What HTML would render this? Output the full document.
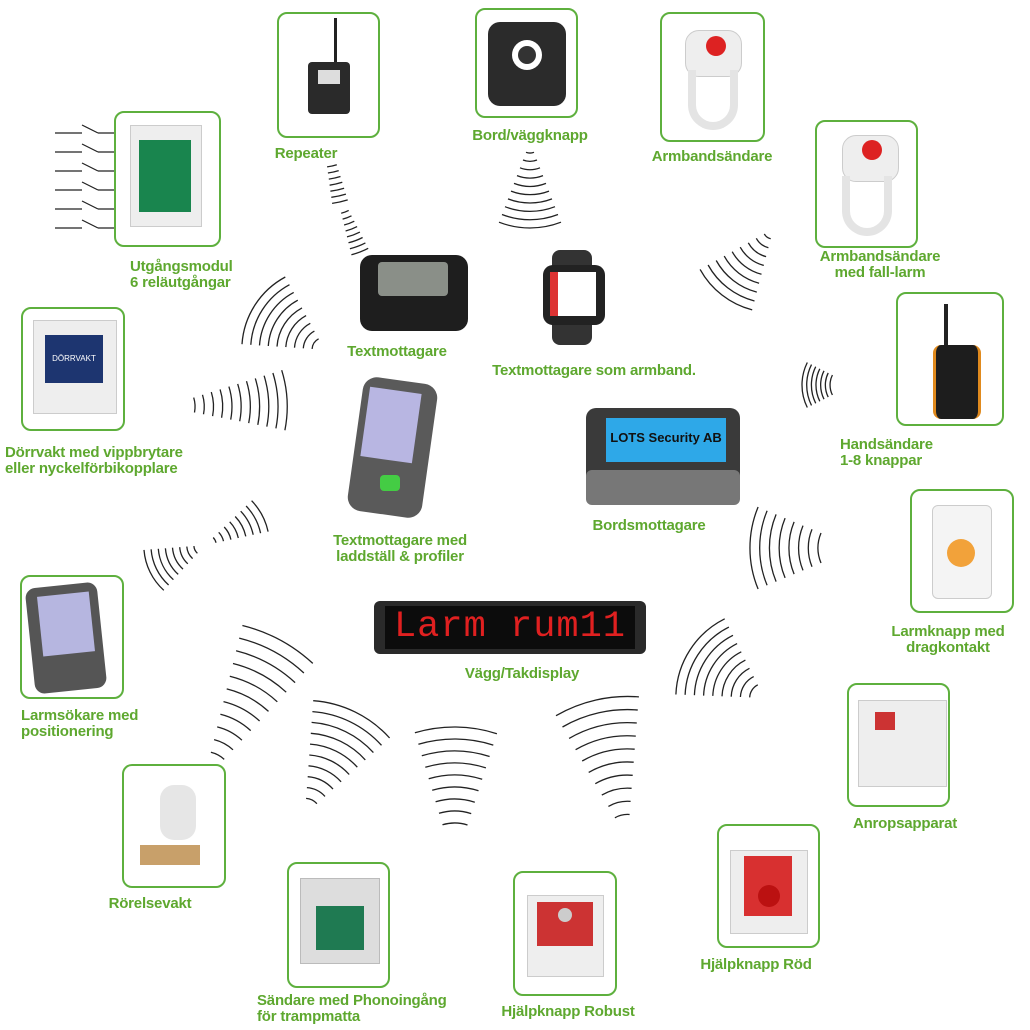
<!DOCTYPE html>
<html><head><meta charset="utf-8"><style>
body{margin:0;width:1030px;height:1030px;background:#fff;position:relative;overflow:hidden;font-family:"Liberation Sans",sans-serif}
.b{position:absolute;border:2px solid #5eb03e;border-radius:10px;box-sizing:border-box;background:#fff}
.l,.ll{position:absolute;color:#5ea82f;font-weight:bold;font-size:15px;line-height:16px;white-space:nowrap;letter-spacing:-0.2px}
.l{text-align:center;transform:translateX(-50%)}
.ll{text-align:left}
.a{position:absolute}
svg{position:absolute;left:0;top:0}
</style></head><body>
<svg id="w" width="1030" height="1030"></svg>

<!-- boxes -->
<div class="b" style="left:277px;top:12px;width:103px;height:126px"></div>
<div class="b" style="left:475px;top:8px;width:103px;height:110px"></div>
<div class="b" style="left:660px;top:12px;width:105px;height:130px"></div>
<div class="b" style="left:815px;top:120px;width:103px;height:128px"></div>
<div class="b" style="left:896px;top:292px;width:108px;height:134px"></div>
<div class="b" style="left:910px;top:489px;width:104px;height:124px"></div>
<div class="b" style="left:847px;top:683px;width:103px;height:124px"></div>
<div class="b" style="left:717px;top:824px;width:103px;height:124px"></div>
<div class="b" style="left:513px;top:871px;width:104px;height:125px"></div>
<div class="b" style="left:287px;top:862px;width:103px;height:126px"></div>
<div class="b" style="left:122px;top:764px;width:104px;height:124px"></div>
<div class="b" style="left:20px;top:575px;width:104px;height:124px"></div>
<div class="b" style="left:21px;top:307px;width:104px;height:124px"></div>
<div class="b" style="left:114px;top:111px;width:107px;height:136px"></div>

<!-- devices -->
<div class="a" style="left:334px;top:18px;width:3px;height:46px;background:#222"></div>
<div class="a" style="left:308px;top:62px;width:42px;height:52px;background:#2a2a2a;border-radius:4px"></div>
<div class="a" style="left:318px;top:70px;width:22px;height:14px;background:#ddd"></div>

<div class="a" style="left:488px;top:22px;width:78px;height:84px;background:#2b2b2b;border-radius:12px"></div>
<div class="a" style="left:512px;top:40px;width:30px;height:30px;background:#fff;border-radius:50%"></div>
<div class="a" style="left:518px;top:46px;width:18px;height:18px;background:#333;border-radius:50%"></div>

<div class="a" style="left:685px;top:30px;width:55px;height:45px;background:#eee;border-radius:14px;border:1px solid #ccc"></div>
<div class="a" style="left:706px;top:36px;width:20px;height:20px;background:#d22;border-radius:50%"></div>
<div class="a" style="left:688px;top:70px;width:50px;height:60px;border:8px solid #e4e4e4;border-top:none;border-radius:0 0 30px 30px;box-sizing:border-box"></div>

<div class="a" style="left:842px;top:135px;width:55px;height:45px;background:#eee;border-radius:14px;border:1px solid #ccc"></div>
<div class="a" style="left:862px;top:140px;width:20px;height:20px;background:#d22;border-radius:50%"></div>
<div class="a" style="left:842px;top:176px;width:50px;height:60px;border:8px solid #e4e4e4;border-top:none;border-radius:0 0 30px 30px;box-sizing:border-box"></div>

<div class="a" style="left:944px;top:304px;width:4px;height:44px;background:#222"></div>
<div class="a" style="left:933px;top:345px;width:42px;height:74px;background:#1d1d1d;border-radius:8px;border-left:3px solid #e08a1e;border-right:3px solid #e08a1e"></div>

<div class="a" style="left:932px;top:505px;width:58px;height:92px;background:#f4f4f4;border:1px solid #ccc;border-radius:6px"></div>
<div class="a" style="left:947px;top:539px;width:28px;height:28px;background:#f2a23a;border-radius:50%"></div>

<div class="a" style="left:858px;top:700px;width:87px;height:85px;background:#eee;border:1px solid #ccc"></div>
<div class="a" style="left:875px;top:712px;width:20px;height:18px;background:#c33"></div>

<div class="a" style="left:730px;top:850px;width:76px;height:82px;background:#eee;border:1px solid #ccc"></div>
<div class="a" style="left:744px;top:856px;width:48px;height:60px;background:#d83030"></div>
<div class="a" style="left:758px;top:885px;width:22px;height:22px;background:#b11;border-radius:50%"></div>

<div class="a" style="left:527px;top:895px;width:75px;height:80px;background:#eee;border:1px solid #ccc"></div>
<div class="a" style="left:537px;top:902px;width:56px;height:44px;background:#cc3333"></div>
<div class="a" style="left:558px;top:908px;width:14px;height:14px;background:#ccc;border-radius:50%"></div>

<div class="a" style="left:300px;top:878px;width:78px;height:84px;background:#ddd;border:1px solid #bbb"></div>
<div class="a" style="left:316px;top:906px;width:48px;height:44px;background:#1f7a52"></div>

<div class="a" style="left:140px;top:845px;width:60px;height:20px;background:#c8a06a"></div>
<div class="a" style="left:160px;top:785px;width:36px;height:55px;background:#e6e6e6;border-radius:14px"></div>

<div class="a" style="left:30px;top:585px;width:72px;height:106px;background:#555;border-radius:10px;transform:rotate(-6deg)"></div>
<div class="a" style="left:40px;top:594px;width:52px;height:60px;background:#b6b6e0;transform:rotate(-6deg)"></div>

<div class="a" style="left:33px;top:320px;width:82px;height:92px;background:#eee;border:1px solid #ccc"></div>
<div class="a" style="left:45px;top:335px;width:58px;height:48px;background:#1d3570;color:#fff;font-size:8px;line-height:48px;text-align:center">DÖRRVAKT</div>

<div class="a" style="left:130px;top:125px;width:70px;height:100px;background:#eee;border:1px solid #ccc"></div>
<div class="a" style="left:139px;top:140px;width:52px;height:72px;background:#19854e"></div>

<!-- center devices -->
<div class="a" style="left:360px;top:255px;width:108px;height:76px;background:#1e1e1e;border-radius:12px"></div>
<div class="a" style="left:378px;top:262px;width:70px;height:34px;background:#8a8f88;border-radius:4px"></div>

<div class="a" style="left:552px;top:250px;width:40px;height:95px;background:#333;border-radius:8px"></div>
<div class="a" style="left:543px;top:265px;width:62px;height:60px;background:#222;border-radius:10px"></div>
<div class="a" style="left:550px;top:272px;width:46px;height:44px;background:#fff;border-left:8px solid #d33;box-sizing:border-box"></div>

<div class="a" style="left:355px;top:380px;width:75px;height:135px;background:#5a5a5a;border-radius:14px;transform:rotate(8deg)"></div>
<div class="a" style="left:365px;top:390px;width:52px;height:70px;background:#b8b6e2;transform:rotate(8deg)"></div>
<div class="a" style="left:380px;top:475px;width:20px;height:16px;background:#4c4;border-radius:4px"></div>

<div class="a" style="left:586px;top:408px;width:154px;height:97px;background:#3a3a3a;border-radius:10px"></div>
<div class="a" style="left:586px;top:470px;width:154px;height:35px;background:#777;border-radius:6px"></div>
<div class="a" style="left:606px;top:418px;width:120px;height:44px;background:#2ea8e8;color:#111;font-weight:bold;font-size:13px;line-height:40px;text-align:center">LOTS Security AB</div>

<div class="a" style="left:374px;top:601px;width:272px;height:53px;background:#2a2a2a;border-radius:6px"></div>
<div class="a" style="left:385px;top:606px;width:250px;height:43px;background:#0c0c0c;color:#e02020;font-family:'Liberation Mono',monospace;font-size:37px;line-height:43px;text-align:center;letter-spacing:1px">Larm rum11</div>

<!-- labels -->
<div class="l" style="left:306px;top:146px">Repeater</div>
<div class="l" style="left:530px;top:128px">Bord/väggknapp</div>
<div class="l" style="left:712px;top:149px">Armbandsändare</div>
<div class="l" style="left:880px;top:249px">Armbandsändare<br>med fall-larm</div>
<div class="ll" style="left:840px;top:437px">Handsändare<br>1-8 knappar</div>
<div class="l" style="left:948px;top:624px">Larmknapp med<br>dragkontakt</div>
<div class="l" style="left:905px;top:816px">Anropsapparat</div>
<div class="l" style="left:756px;top:957px">Hjälpknapp Röd</div>
<div class="l" style="left:568px;top:1004px">Hjälpknapp Robust</div>
<div class="ll" style="left:257px;top:993px">Sändare med Phonoingång<br>för trampmatta</div>
<div class="l" style="left:150px;top:896px">Rörelsevakt</div>
<div class="ll" style="left:21px;top:708px">Larmsökare med<br>positionering</div>
<div class="ll" style="left:5px;top:445px">Dörrvakt med vippbrytare<br>eller nyckelförbikopplare</div>
<div class="ll" style="left:130px;top:259px">Utgångsmodul<br>6 reläutgångar</div>
<div class="l" style="left:397px;top:344px">Textmottagare</div>
<div class="l" style="left:594px;top:363px">Textmottagare som armband.</div>
<div class="l" style="left:400px;top:533px">Textmottagare med<br>laddställ &amp;  profiler</div>
<div class="l" style="left:649px;top:518px">Bordsmottagare</div>
<div class="l" style="left:522px;top:666px">Vägg/Takdisplay</div>

<script>
var s=document.getElementById('w'),h='';
for(var i=0;i<6;i++){var y=133+i*19;h+='<line x1="55" y1="'+y+'" x2="82" y2="'+y+'" stroke="#222" stroke-width="1.2"/><line x1="82" y1="'+(y-8)+'" x2="98" y2="'+y+'" stroke="#222" stroke-width="1.2"/><line x1="98" y1="'+y+'" x2="115" y2="'+y+'" stroke="#222" stroke-width="1.2"/>';}
function c(nx,ny,wn,fx,fy,wf,n){
 var dx=fx-nx,dy=fy-ny,D=Math.hypot(dx,dy),ux=dx/D,uy=dy/D;
 var sa=(wf-wn)/(2*D);if(sa>0.95)sa=0.95;var al=Math.asin(sa);
 var rf=wf/(2*sa),rn=rf-D,ox=fx-ux*rf,oy=fy-uy*rf,th=Math.atan2(uy,ux);
 for(var i=0;i<n;i++){var r=rn+(rf-rn)*i/(n-1);
  var x1=ox+r*Math.cos(th-al),y1=oy+r*Math.sin(th-al),x2=ox+r*Math.cos(th+al),y2=oy+r*Math.sin(th+al);
  h+='<path d="M'+x1.toFixed(1)+' '+y1.toFixed(1)+' A'+r.toFixed(1)+' '+r.toFixed(1)+' 0 0 1 '+x2.toFixed(1)+' '+y2.toFixed(1)+'" fill="none" stroke="#222" stroke-width="1.3"/>';}
}
c(332,166,10,340,202,16,7);
c(345,212,8,360,252,18,8);
c(530,153,8,530,228,62,10);
c(767,237,8,722,295,66,9);
c(830,385,20,802,385,45,7);
c(818,548,30,750,548,82,8);
c(752,690,15,690,650,90,9);
c(622,815,15,596,700,85,10);
c(455,823,25,456,727,82,9);
c(312,800,12,355,712,85,10);
c(218,755,15,280,640,80,11);
c(195,550,8,150,572,45,8);
c(215,540,6,262,515,35,8);
c(195,405,15,287,400,60,11);
c(314,343,12,255,305,80,9);
s.innerHTML=h;
</script>
</body></html>
